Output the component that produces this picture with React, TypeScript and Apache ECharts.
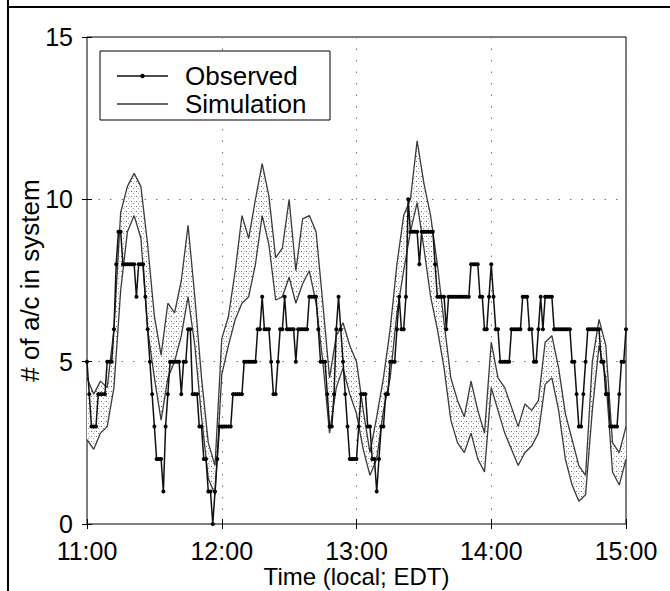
import React, { useEffect, useRef } from 'react';
import * as echarts from 'echarts';

const xTickLabels = ['11:00', '12:00', '13:00', '14:00', '15:00'];
const yMax = 15;
const yInterval = 5;

// Observed number of aircraft, one value per minute from 11:00 to 15:00
const observed = [
  5, 4, 3, 3, 3, 4, 4, 4, 4, 5,
  5, 5, 6, 8, 9, 9, 8, 8, 8, 8,
  8, 8, 7, 8, 8, 8, 7, 6, 5, 4,
  3, 2, 2, 2, 1, 3, 4, 5, 5, 5,
  5, 5, 4, 5, 5, 6, 6, 4, 4, 4,
  3, 3, 2, 2, 1, 1, 0, 1, 2, 3,
  3, 3, 3, 3, 3, 4, 4, 4, 4, 4,
  5, 5, 5, 5, 5, 5, 6, 6, 7, 6,
  6, 6, 5, 4, 4, 5, 6, 6, 7, 6,
  6, 6, 6, 5, 6, 6, 6, 6, 6, 7,
  7, 7, 7, 6, 5, 5, 5, 4, 3, 3,
  4, 6, 7, 6, 5, 4, 3, 2, 2, 2,
  2, 3, 4, 4, 4, 3, 3, 2, 2, 1,
  2, 3, 3, 4, 4, 5, 5, 5, 6, 7,
  6, 6, 7, 10, 9, 9, 9, 9, 8, 9,
  9, 9, 9, 9, 9, 8, 7, 7, 7, 7,
  6, 7, 7, 7, 7, 7, 7, 7, 7, 7,
  7, 8, 8, 8, 8, 7, 7, 6, 6, 7,
  8, 7, 6, 6, 5, 5, 5, 5, 5, 6,
  6, 6, 6, 6, 7, 7, 7, 6, 6, 5,
  5, 6, 7, 6, 7, 7, 7, 7, 6, 6,
  6, 6, 6, 6, 6, 6, 5, 5, 4, 3,
  3, 4, 5, 6, 6, 6, 6, 6, 6, 5,
  5, 4, 4, 3, 3, 3, 3, 4, 5, 5, 6,
];
const observedStep = 1; // minutes

// Simulation envelope, one value every 3 minutes
const simUpper = [
  4.5, 4.0, 4.4, 4.2, 6.0, 9.6, 10.4, 10.8, 10.4, 8.6,
  6.4, 5.2, 6.8, 6.5, 7.5, 9.2, 7.0, 4.5, 2.5, 1.8,
  5.7, 6.4, 7.8, 9.5, 8.8, 10.0, 11.1, 10.1, 8.2, 8.5,
  10.0, 7.8, 9.4, 9.5, 9.0, 6.8, 4.5, 5.8, 6.2, 5.5,
  5.0, 3.5, 2.2, 3.3, 4.5, 6.0, 8.0, 9.5, 10.0, 11.8,
  10.5, 9.5, 8.0, 6.2, 4.5, 3.8, 3.3, 4.4, 3.5, 2.8,
  5.6, 4.5, 4.2, 3.6, 3.0, 3.7, 3.5, 3.8, 5.6, 5.8,
  4.8, 3.4, 2.6, 1.8, 1.5, 5.0, 6.3, 5.5, 2.5, 2.2,
  3.0,
];
const simLower = [
  2.6, 2.3, 2.8, 3.0, 4.2, 7.2, 9.0, 9.5, 8.8, 6.0,
  4.5, 3.2, 4.5, 5.0, 5.8, 7.0, 5.5, 3.3, 1.4, 0.9,
  4.6, 5.5, 6.3, 6.8, 7.0, 8.0, 9.5, 8.6, 6.9, 7.0,
  7.6, 6.8, 7.4, 7.8, 6.8, 5.0, 2.8, 4.2, 4.8, 4.0,
  3.4, 2.3, 1.5, 2.0, 3.5, 4.5, 6.5, 7.8, 9.0, 9.9,
  8.5, 7.0, 6.0, 4.8, 3.2, 2.5, 2.2, 2.8, 2.0, 1.6,
  4.2, 3.5, 2.8, 2.3, 1.8, 2.2, 2.4, 2.8, 4.3, 4.5,
  3.5, 2.0, 1.2, 0.7, 0.9, 3.5, 5.5, 4.5, 1.6, 1.2,
  2.0,
];
const simStep = 3; // minutes

const FONT = '"Liberation Sans", Arial, Helvetica, sans-serif';

export default function App() {
  const ref = useRef<HTMLDivElement>(null);

  useEffect(() => {
    document.body.style.margin = '0';
    if (!ref.current) return;
    const chart = echarts.init(ref.current, null, { renderer: 'svg' });

    const canvas = document.createElement('canvas');
    canvas.width = 5;
    canvas.height = 5;
    const ctx = canvas.getContext('2d');
    if (ctx) {
      ctx.fillStyle = '#ffffff';
      ctx.fillRect(0, 0, 5, 5);
      ctx.fillStyle = '#6a6a6a';
      ctx.fillRect(1, 1, 1, 1);
      ctx.fillStyle = '#999999';
      ctx.fillRect(3, 3, 1, 1);
      ctx.fillStyle = '#c4c4c4';
      ctx.fillRect(4, 1, 1, 1);
    }

    const obsData = observed.map((v, i) => [i * observedStep, v]);
    const upData = simUpper.map((v, i) => [i * simStep, v]);
    const loData = simLower.map((v, i) => [i * simStep, v]);
    const bandData = simUpper.map((v, i) => [i * simStep, v, simLower[i]]);

    const gridLine = { show: true, lineStyle: { color: '#777', width: 1, type: [1.5, 10] as any } };

    chart.setOption({
      animation: false,
      backgroundColor: '#fff',
      textStyle: { fontFamily: FONT },
      grid: {
        left: 87, top: 37, width: 539, height: 487,
        containLabel: false, outerBoundsMode: 'none',
        show: true, borderColor: '#000', borderWidth: 1, backgroundColor: 'transparent',
      },
      xAxis: [
        {
          type: 'value', min: 0, max: 240, interval: 60, position: 'bottom',
          axisLine: { show: false },
          axisTick: { show: true, inside: true, length: 5, lineStyle: { color: '#000' } },
          axisLabel: {
            formatter: (v: number) => xTickLabels[Math.round(v / 60)] ?? '',
            fontSize: 25, color: '#000', margin: 14, fontFamily: FONT,
          },
          splitLine: gridLine,
          name: 'Time (local; EDT)', nameLocation: 'middle', nameGap: 40,
          nameMoveOverlap: false,
          nameTextStyle: { fontSize: 24, color: '#000', fontFamily: FONT },
        },
        {
          type: 'value', min: 0, max: 240, interval: 60, position: 'top',
          axisLine: { show: false },
          axisTick: { show: true, inside: true, length: 5, lineStyle: { color: '#000' } },
          axisLabel: { show: false }, splitLine: { show: false },
        },
      ],
      yAxis: [
        {
          type: 'value', min: 0, max: yMax, interval: yInterval, position: 'left',
          axisLine: { show: false },
          axisTick: { show: true, inside: true, length: 5, lineStyle: { color: '#000' } },
          axisLabel: { fontSize: 25, color: '#000', margin: 14, fontFamily: FONT },
          splitLine: gridLine,
          name: '# of a/c in system', nameLocation: 'middle', nameGap: 44,
          nameMoveOverlap: false,
          nameTextStyle: { fontSize: 26, color: '#000', fontFamily: FONT },
        },
        {
          type: 'value', min: 0, max: yMax, interval: yInterval, position: 'right',
          axisLine: { show: false },
          axisTick: { show: true, inside: true, length: 5, lineStyle: { color: '#000' } },
          axisLabel: { show: false }, splitLine: { show: false },
        },
      ],
      series: [
        {
          name: 'bandFill', type: 'custom', data: bandData, silent: true, z: 1,
          encode: { x: 0, y: [1, 2] },
          renderItem: (params: any, api: any) => {
            if (params.dataIndex !== 0) return null;
            const top = bandData.map((d) => api.coord([d[0], d[1]]));
            const bottom = bandData.map((d) => api.coord([d[0], d[2]])).reverse();
            return {
              type: 'polygon',
              shape: { points: top.concat(bottom) },
              style: { fill: { image: canvas, repeat: 'repeat' }, stroke: 'none' },
            };
          },
        },
        {
          name: 'Simulation upper', type: 'line', data: upData, symbol: 'none',
          lineStyle: { color: '#3a3a3a', width: 1.3 }, z: 3,
        },
        {
          name: 'Simulation lower', type: 'line', data: loData, symbol: 'none',
          lineStyle: { color: '#3a3a3a', width: 1.3 }, z: 3,
        },
        {
          name: 'Observed', type: 'line', data: obsData, symbol: 'circle', symbolSize: 4,
          itemStyle: { color: '#000' }, lineStyle: { color: '#111', width: 1.5 }, z: 4,
        },
      ],
      graphic: [
        { type: 'line', shape: { x1: 8, y1: 0, x2: 8, y2: 591 }, style: { stroke: '#000', lineWidth: 2 }, z: 10 },
        { type: 'line', shape: { x1: 8, y1: 7, x2: 670, y2: 7 }, style: { stroke: '#000', lineWidth: 2 }, z: 10 },
        {
          type: 'group', z: 100,
          children: [
            { type: 'rect', shape: { x: 100, y: 51, width: 230, height: 69 }, style: { fill: '#fff', stroke: '#000', lineWidth: 1 }, z: 100 },
            { type: 'line', shape: { x1: 117, y1: 76, x2: 168, y2: 76 }, style: { stroke: '#111', lineWidth: 1.5 }, z: 101 },
            { type: 'circle', shape: { cx: 142.5, cy: 76, r: 2.2 }, style: { fill: '#000' }, z: 102 },
            { type: 'text', x: 185, y: 76, style: { text: 'Observed', fontSize: 26, fontFamily: FONT, fill: '#000', verticalAlign: 'middle' }, z: 101 },
            { type: 'line', shape: { x1: 117, y1: 104, x2: 168, y2: 104 }, style: { stroke: '#3a3a3a', lineWidth: 1.3 }, z: 101 },
            { type: 'text', x: 185, y: 104, style: { text: 'Simulation', fontSize: 26, fontFamily: FONT, fill: '#000', verticalAlign: 'middle' }, z: 101 },
          ],
        },
      ],
    });

    return () => chart.dispose();
  }, []);

  return <div ref={ref} style={{ width: 670, height: 591 }} />;
}
